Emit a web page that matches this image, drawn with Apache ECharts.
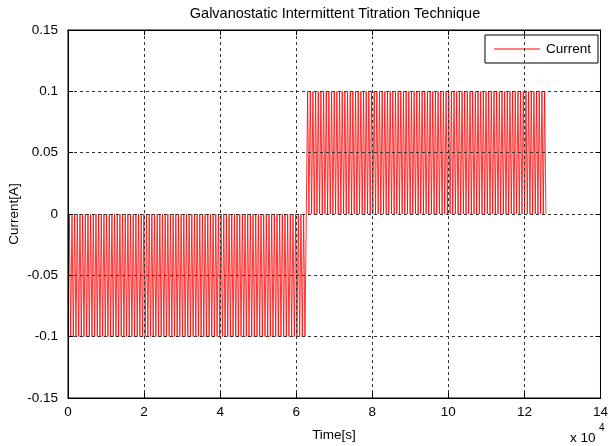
<!DOCTYPE html>
<html>
<head>
<meta charset="utf-8">
<script src="https://cdn.jsdelivr.net/npm/echarts@6/dist/echarts.min.js"></script>
<style>html,body{margin:0;padding:0;background:#fff;}#c{width:611px;height:446px;}</style>
</head>
<body>
<div id="c"></div>
<script>
// Pulse start times (s)
var dischargeStarts = [0,700,1400,2100,2800,3500,4200,4900,5600,6300,7000,7700,8400,9100,9800,10500,11200,11900,12600,13300,14000,14700,15400,16100,16800,17500,18200,18900,19600,20300,21000,21700,22400,23100,23800,24500,25200,25900,26600,27300,28000,28700,29400,30100,30800,31500,32200,32900,33600,34300,35000,35700,36400,37100,37800,38500,39200,39900,40600,41300,42000,42700,43400,44100,44800,45500,46200,46900,47600,48300,49000,49700,50400,51100,51800,52500,53200,53900,54600,55300,56000,56700,57400,58100,58800,59500,60200,60900,61600,62300];
var chargeStarts = [63000,63700,64400,65100,65800,66500,67200,67900,68600,69300,70000,70700,71400,72100,72800,73500,74200,74900,75600,76300,77000,77700,78400,79100,79800,80500,81200,81900,82600,83300,84000,84700,85400,86100,86800,87500,88200,88900,89600,90300,91000,91700,92400,93100,93800,94500,95200,95900,96600,97300,98000,98700,99400,100100,100800,101500,102200,102900,103600,104300,105000,105700,106400,107100,107800,108500,109200,109900,110600,111300,112000,112700,113400,114100,114800,115500,116200,116900,117600,118300,119000,119700,120400,121100,121800,122500,123200,123900,124600,125300];
var pulseWidth = [350];          // s
var dischargeCurrent = [-0.1];   // A
var chargeCurrent = [0.1];       // A
var restCurrent = [0];           // A
var xTicks = [0,2,4,6,8,10,12,14];          // x 10^4
var yTicks = [-0.15,-0.1,-0.05,0,0.05,0.1,0.15];

var pts = [];
function addPulses(starts, level) {
  starts.forEach(function (t) {
    var e = t + pulseWidth[0];
    pts.push([t, restCurrent[0]], [t, level], [e, level], [e, restCurrent[0]]);
  });
}
addPulses(dischargeStarts, dischargeCurrent[0]);
addPulses(chargeStarts, chargeCurrent[0]);

var font = 'Liberation Sans, Arial, sans-serif';
var fs = 13.5;
var gridLine = { show: true, lineStyle: { color: '#333', type: [3, 3], width: 1 } };
var tick = { show: true, inside: true, length: 5, lineStyle: { color: '#000' } };
var axLine = { show: true, onZero: false, lineStyle: { color: '#000', width: 1 } };

var chart = echarts.init(document.getElementById('c'), null, { renderer: 'canvas' });
chart.setOption({
  animation: false,
  backgroundColor: '#fff',
  grid: { left: 68, right: 10, top: 30, bottom: 48, show: true, borderColor: '#000', borderWidth: 1, backgroundColor: '#fff' },
  legend: {
    data: ['Current'], right: 13, top: 35, orient: 'vertical',
    icon: 'rect', itemWidth: 46, itemHeight: 1, itemGap: 6,
    backgroundColor: '#fff', borderColor: '#000', borderWidth: 1, padding: [7, 7, 7, 9],
    textStyle: { fontFamily: font, fontSize: fs, color: '#000', padding: [0, 0, 0, 1] }
  },
  xAxis: [{
    type: 'value', min: 0, max: 140000, interval: 20000, z: 10,
    axisLine: axLine, axisTick: tick, splitLine: gridLine,
    axisLabel: { color: '#000', fontFamily: font, fontSize: fs, margin: 7,
      formatter: function (v) { return String(Math.round(v / 1e4)); } }
  }, {
    type: 'value', position: 'top', min: 0, max: 140000, interval: 20000, z: 10,
    axisLine: axLine, axisTick: tick, splitLine: { show: false }, axisLabel: { show: false }
  }],
  yAxis: [{
    type: 'value', min: -0.15, max: 0.15, interval: 0.05, z: 10,
    axisLine: axLine, axisTick: tick, splitLine: gridLine,
    axisLabel: { color: '#000', fontFamily: font, fontSize: fs, margin: 10,
      formatter: function (v) { return String(parseFloat(v.toFixed(2))); } }
  }, {
    type: 'value', position: 'right', min: -0.15, max: 0.15, interval: 0.05, z: 10,
    axisLine: axLine, axisTick: tick, splitLine: { show: false }, axisLabel: { show: false }
  }],
  series: [{
    name: 'Current', type: 'line', data: pts, symbol: 'none', showSymbol: false,
    lineStyle: { color: '#ff0000', width: 0.8 }, itemStyle: { color: '#ff0000' },
    z: 2, silent: true
  }],
  graphic: [
    { type: 'text', x: 335, y: 14, style: { text: 'Galvanostatic Intermittent Titration Technique', font: '14.5px ' + font, fill: '#000', align: 'center', verticalAlign: 'middle' } },
    { type: 'text', x: 334, y: 435, style: { text: 'Time[s]', font: fs + 'px ' + font, fill: '#000', align: 'center', verticalAlign: 'middle' } },
    { type: 'text', x: 14, y: 214, rotation: Math.PI / 2, style: { text: 'Current[A]', font: fs + 'px ' + font, fill: '#000', align: 'center', verticalAlign: 'middle' } },
    { type: 'text', x: 570, y: 438, style: { text: 'x 10', font: fs + 'px ' + font, fill: '#000', align: 'left', verticalAlign: 'middle' } },
    { type: 'text', x: 599, y: 428, style: { text: '4', font: '10px ' + font, fill: '#000', align: 'left', verticalAlign: 'middle' } }
  ]
});
</script>
</body>
</html>
